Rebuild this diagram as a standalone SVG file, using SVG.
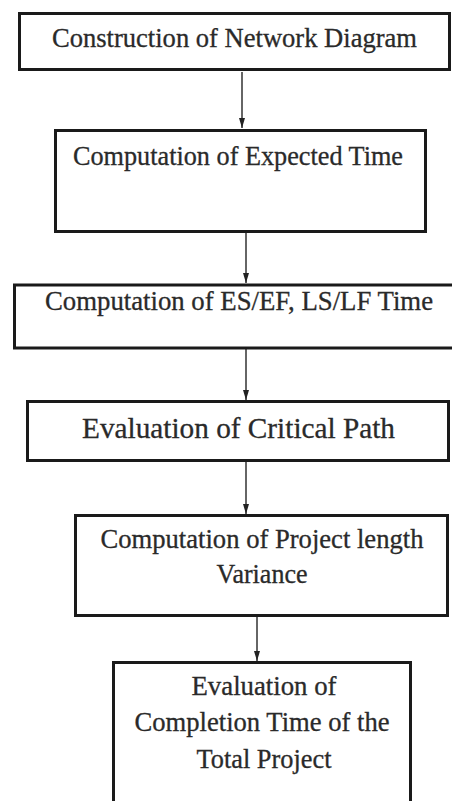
<svg xmlns="http://www.w3.org/2000/svg" width="452" height="801" viewBox="0 0 452 801">
<style>
.box{fill:#fff;stroke:#1a1a1a;stroke-width:3}
.t{font-family:"Liberation Serif","Times New Roman",serif;font-size:26.5px;fill:#2a2a2a;stroke:#2a2a2a;stroke-width:0.3;text-anchor:middle}
.big{font-size:29.5px}
.c{stroke:#333;stroke-width:1.5;fill:none}
</style>
<defs>
<marker id="ah" viewBox="0 0 10 6" refX="10" refY="3" markerWidth="10" markerHeight="6" markerUnits="userSpaceOnUse" orient="auto">
<path d="M0,0 L10,3 L0,6 Z" fill="#222"/>
</marker>
</defs>
<rect width="452" height="801" fill="#fff"/>
<g id="connectors">
<line class="c" x1="242" y1="72" x2="242" y2="128" marker-end="url(#ah)"/>
<line class="c" x1="246" y1="233" x2="246" y2="283" marker-end="url(#ah)"/>
<line class="c" x1="246" y1="349" x2="246" y2="400" marker-end="url(#ah)"/>
<line class="c" x1="246" y1="461" x2="246" y2="514" marker-end="url(#ah)"/>
<line class="c" x1="257" y1="616" x2="257" y2="661" marker-end="url(#ah)"/>
</g>
<g id="n1">
<rect class="box" x="19.5" y="13.5" width="430" height="56"/>
<text class="t" x="234.5" y="47" textLength="365" lengthAdjust="spacingAndGlyphs">Construction of Network Diagram</text>
</g>
<g id="n2">
<rect class="box" x="55.5" y="130.5" width="370" height="101"/>
<text class="t" x="238" y="165" textLength="330" lengthAdjust="spacingAndGlyphs">Computation of Expected Time</text>
</g>
<g id="n3">
<rect class="box" x="14.5" y="285" width="450" height="63"/>
<text class="t" x="239" y="310" textLength="388" lengthAdjust="spacingAndGlyphs">Computation of ES/EF, LS/LF Time</text>
</g>
<g id="n4">
<rect class="box" x="27.5" y="401.5" width="421" height="59"/>
<text class="t big" x="238.5" y="437.5" textLength="313" lengthAdjust="spacingAndGlyphs">Evaluation of Critical Path</text>
</g>
<g id="n5">
<rect class="box" x="75.5" y="515.5" width="372" height="100"/>
<text class="t" x="262" y="548" textLength="323" lengthAdjust="spacingAndGlyphs">Computation of Project length</text>
<text class="t" x="262" y="583" textLength="91" lengthAdjust="spacingAndGlyphs">Variance</text>
</g>
<g id="n6">
<rect class="box" x="113.5" y="662.5" width="297" height="160"/>
<text class="t" x="264" y="695" textLength="145" lengthAdjust="spacingAndGlyphs">Evaluation of</text>
<text class="t" x="262" y="731" textLength="255" lengthAdjust="spacingAndGlyphs">Completion Time of the</text>
<text class="t" x="264" y="768" textLength="135" lengthAdjust="spacingAndGlyphs">Total Project</text>
</g>
</svg>
